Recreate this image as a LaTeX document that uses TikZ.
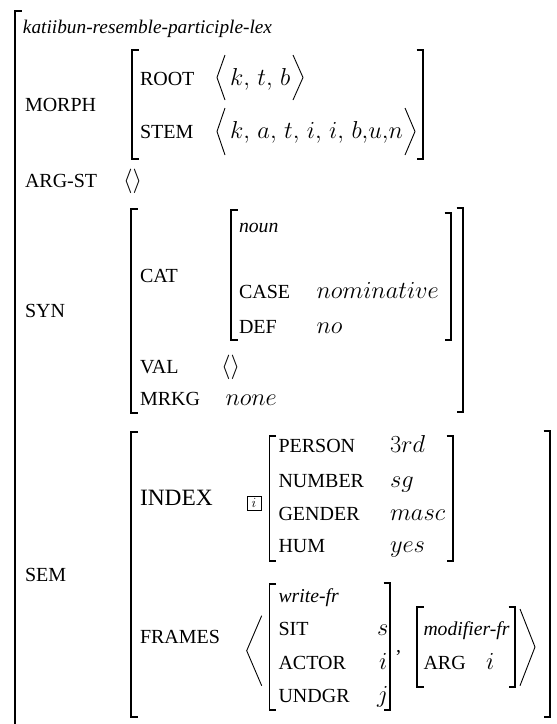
\documentclass[tikz,border=0pt]{standalone}
\usepackage{fix-cm}
\usepackage[no-math]{fontspec}
\setmainfont{Liberation Serif}

% left and right square brackets: x, top, bottom
\newcommand\avmL[3]{\draw[brk] (#1+6.5,#2) -- (#1,#2) -- (#1,#3) -- (#1+6.5,#3);}
\newcommand\avmR[3]{\draw[brk] (#1-6.5,#2) -- (#1,#2) -- (#1,#3) -- (#1-6.5,#3);}
% separator inside the phonological lists
\newcommand\sepc{,\mskip2.5mu}

\begin{document}
\begin{tikzpicture}[x=1pt,y=-1pt,
  every node/.style={anchor=base west,inner sep=0pt,outer sep=0pt},
  lbl/.style={font=\fontsize{20}{24}\selectfont},
  big/.style={font=\fontsize{23.4}{28}\selectfont},
  typ/.style={font=\fontsize{19.7}{24}\selectfont\itshape},
  val/.style={font=\fontsize{24.5}{29}\selectfont},
  brk/.style={line width=1.6pt,line cap=butt,line join=miter},
  ang/.style={line width=0.9pt,line join=miter},
  tag/.style={draw,line width=0.6pt,anchor=center,minimum width=14pt,minimum height=14pt,
    font=\fontsize{14}{16}\selectfont}]
\useasboundingbox (0,0) rectangle (557,724);

% outermost bracket
\draw[brk] (21.5,11) -- (15,11) -- (15,724);
\node[typ,font=\fontsize{19.3}{23}\selectfont\itshape] (title) at (23,33) {katiibun-resemble-participle-lex};

% MORPH
\node[lbl] (morph) at (25,111) {MORPH};
\avmL{132}{50}{159}
\avmR{423}{50}{159}
\node[lbl] (root) at (140,85) {ROOT};
\node[val] (rootv) at (230,85) {$k\sepc t\sepc b$};
\draw[ang] (225,55) -- (217,77.5) -- (225,100);
\draw[ang] (293,55) -- (303,77.5) -- (293,100);
\node[lbl] (stem) at (140,138) {STEM};
\node[val] (stemv) at (230,138) {$k\sepc a\sepc t\sepc i\sepc i\sepc b{,}u{,}n$};
\draw[ang] (225,108) -- (217,131.5) -- (225,155);
\draw[ang] (405,108) -- (415,131.5) -- (405,155);

% ARG-ST
\node[lbl] (argst) at (25,187) {ARG-ST};
\node[val] (argstv) at (123,187) {$\langle\rangle$};

% SYN
\node[lbl] (syn) at (25,317) {SYN};
\avmL{131}{209}{413}
\avmR{463}{208}{412}
\node[lbl] (cat) at (140,282) {CAT};
\avmL{231}{210}{340}
\avmR{451}{213}{340}
\node[typ] (noun) at (239,232) {noun};
\node[lbl] (case) at (239,298) {CASE};
\node[val] (casev) at (316.5,298) {$nominative$};
\node[lbl] (def) at (239,333) {DEF};
\node[val] (defv) at (316.5,333) {$no$};
\node[lbl] (val) at (140,373) {VAL};
\node[val] (valv) at (221,373) {$\langle\rangle$};
\node[lbl] (mrkg) at (140,405) {MRKG};
\node[val] (mrkgv) at (225.5,405) {$none$};

% SEM
\node[lbl] (sem) at (25,581) {SEM};
\avmL{131}{432}{717}
\avmR{550}{431}{717}
\node[big] (index) at (140,505) {INDEX};
\node[tag] (tagi) at (254,503) {$i$};
\avmL{269.5}{436}{561}
\avmR{453}{436}{561}
\node[lbl] (person) at (278.5,452.3) {PERSON};
\node[val] (personv) at (390,452.3) {$3rd$};
\node[lbl] (number) at (278.5,487.3) {NUMBER};
\node[val] (numberv) at (390,487.3) {$sg$};
\node[lbl] (gender) at (278.5,520.7) {GENDER};
\node[val] (genderv) at (390,520.7) {$masc$};
\node[lbl] (hum) at (278.5,552.3) {HUM};
\node[val] (humv) at (390,552.3) {$yes$};

\node[lbl] (frames) at (140,643.3) {FRAMES};
\draw[ang] (261.7,615.7) -- (246.7,650.7) -- (261.7,685.7);
\avmL{269.5}{584}{710}
\avmR{390}{583}{710}
\node[typ] (writefr) at (278.5,602.3) {write-fr};
\node[lbl] (sit) at (278.5,635.7) {SIT};
\node[val] (sitv) at (377,635.7) {$s$};
\node[lbl] (actor) at (278.5,669) {ACTOR};
\node[val] (actorv) at (379,669) {$i$};
\node[lbl] (undgr) at (278.5,702.3) {UNDGR};
\node[val] (undgrv) at (377,702.3) {$j$};
\node[lbl] (comma) at (396,652) {,};
\avmL{417}{607}{687}
\avmR{515}{607}{687}
\node[typ] (modfr) at (423.5,635.7) {modifier-fr};
\node[lbl] (arg) at (423.5,669) {ARG};
\node[val] (argv) at (486,669) {$i$};
\draw[ang] (520,609) -- (535,647) -- (520,685.7);
\end{tikzpicture}
\end{document}
